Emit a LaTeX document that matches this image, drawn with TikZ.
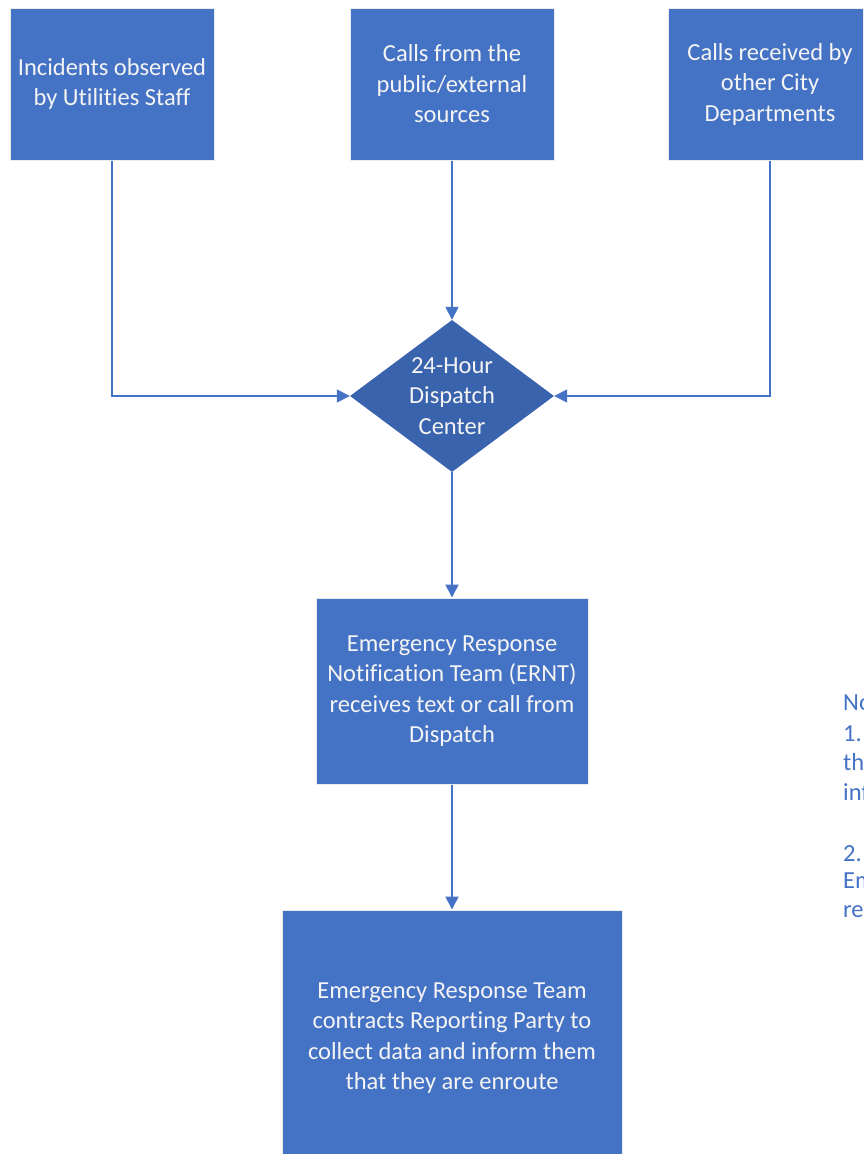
\documentclass[tikz,border=0pt]{standalone}
\usepackage{fontspec}
\setmainfont[Ligatures=NoCommon]{Carlito}
\usetikzlibrary{shapes.geometric,arrows.meta}
\definecolor{boxblue}{HTML}{4472C4}
\definecolor{diablue}{HTML}{3A63AD}
\definecolor{txtwhite}{HTML}{F4F4F4}
\begin{document}
\begin{tikzpicture}[x=1pt,y=-1pt,
  box/.style={rectangle,fill=boxblue,draw=white!85!gray,line width=1pt,inner sep=0pt,
    text=txtwhite,align=center,font=\fontsize{24.5}{30.5}\selectfont},
  dia/.style={diamond,fill=diablue,inner sep=0pt,minimum width=204pt,minimum height=152pt},
  conn/.style={draw=boxblue,line width=1.6pt,-{Triangle[length=13pt,width=13pt]}},
  note/.style={text=boxblue,anchor=west,inner sep=0pt,font=\fontsize{24.5}{30}\selectfont}]
\useasboundingbox (0,0) rectangle (863,1154);
\clip (0,0) rectangle (863,1154);
\fill[white] (0,0) rectangle (863,1154);
\node[box,minimum width=204pt,minimum height=152pt] (b1) at (112,84) {Incidents observed\\by Utilities Staff};
\node[box,minimum width=204pt,minimum height=152pt] (b2) at (452,84) {Calls from the\\public/external\\sources};
\node[box,minimum width=204pt,minimum height=152pt] (b3) at (770,84) {Calls received by\\other City\\Departments};
\node[dia] (d) at (452,396) {};
\node[text=txtwhite,align=center,font=\fontsize{24.5}{30.5}\selectfont] (dt) at (452,396) {24-Hour\\Dispatch\\Center};
\node[box,minimum width=272pt,minimum height=186pt] (b4) at (452,691) {Emergency Response\\Notification Team (ERNT)\\receives text or call from\\Dispatch};
\node[box,minimum width=340pt,minimum height=256pt] (b5) at (452,1038) {Emergency Response Team\\contracts Reporting Party to\\collect data and inform them\\that they are enroute};
\coordinate (c1) at (b1.south |- d.west);
\coordinate (c3) at (b3.south |- d.east);
\draw[conn] (b1.south) -- (c1) -- (d.west);
\draw[conn] (b3.south) -- (c3) -- (d.east);
\draw[conn] (b2.south) -- (d.north);
\draw[conn] (d.south) -- (b4.north);
\draw[conn] (b4.south) -- (b5.north);
\node[note] (n0) at (843,703) {Notes:};
\node[note] (n1) at (843,733) {1. The};
\node[note] (n2) at (843,762) {the};
\node[note] (n3) at (843,792) {info};
\node[note] (n4) at (843,853) {2. The};
\node[note] (n5) at (843,883) {Emergency};
\node[note] (n6) at (843,914) {response};
\end{tikzpicture}
\end{document}
